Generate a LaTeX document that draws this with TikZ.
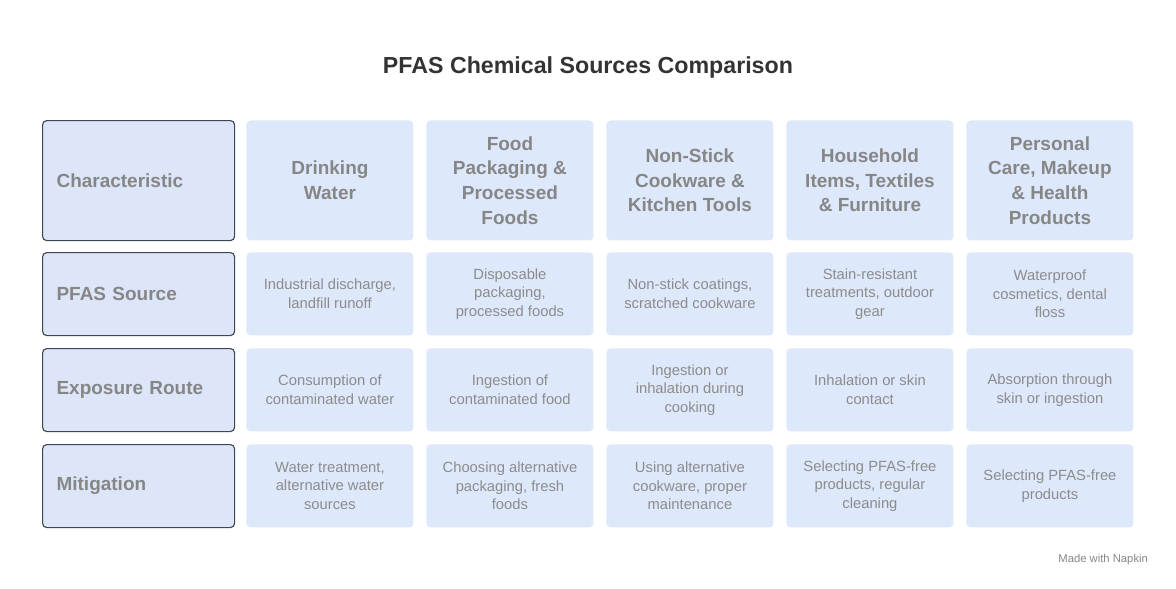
\documentclass[tikz,border=0pt]{standalone}
\usepackage{fontspec}
\setmainfont{Liberation Sans}
\usetikzlibrary{positioning}
\definecolor{cellblue}{HTML}{DDE8FB}
\definecolor{keyblue}{HTML}{DCE6F8}
\definecolor{keyline}{HTML}{3C4654}
\definecolor{celltext}{HTML}{8C8C8C}
\definecolor{headtext}{HTML}{868686}
\definecolor{titletext}{HTML}{333333}

\begin{document}
\begin{tikzpicture}[x=0.025cm,y=-0.025cm,
    cell/.style={fill=cellblue,rounded corners=3pt,anchor=north west,inner sep=0pt,
      minimum width=4.175cm,text=celltext,align=center,
      font=\fontsize{10.5}{13.2}\selectfont},
    head/.style={cell,text=headtext,font=\fontsize{13.5}{17.5}\selectfont\bfseries},
    keycell/.style={head,fill=keyblue,draw=keyline,line width=0.8pt,minimum width=4.8cm,
      inner xsep=0.35cm,text width=4.1cm,align=left},
    semithick]
    \useasboundingbox (0,0) rectangle (1176,588);

    \node[font=\fontsize{16.5}{20}\selectfont\bfseries,text=titletext] (title) at (588,67) {PFAS Chemical Sources Comparison};

    % row heights: 120, 83, 83, 83
    \node[keycell,minimum height=3cm]      (k1) at (42,120) {Characteristic};
    \node[keycell,minimum height=2.075cm]  (k2) at (42,252) {PFAS Source};
    \node[keycell,minimum height=2.075cm]  (k3) at (42,348) {Exposure Route};
    \node[keycell,minimum height=2.075cm]  (k4) at (42,444) {Mitigation};

    \foreach \i/\txt in {0/{Drinking\\Water},1/{Food\\Packaging \&\\Processed\\Foods},
        2/{Non-Stick\\Cookware \&\\Kitchen Tools},3/{Household\\Items, Textiles\\\& Furniture},
        4/{Personal\\Care, Makeup\\\& Health\\Products}}
      \node[head,minimum height=3cm] (h\i) at (246+180*\i,120) {\txt};

    \foreach \i/\txt in {0/{Industrial discharge,\\landfill runoff},1/{Disposable\\packaging,\\processed foods},
        2/{Non-stick coatings,\\scratched cookware},3/{Stain-resistant\\treatments, outdoor\\gear},
        4/{Waterproof\\cosmetics, dental\\floss}}
      \node[cell,minimum height=2.075cm] (s\i) at (246+180*\i,252) {\txt};

    \foreach \i/\txt in {0/{Consumption of\\contaminated water},1/{Ingestion of\\contaminated food},
        2/{Ingestion or\\inhalation during\\cooking},3/{Inhalation or skin\\contact},
        4/{Absorption through\\skin or ingestion}}
      \node[cell,minimum height=2.075cm] (e\i) at (246+180*\i,348) {\txt};

    \foreach \i/\txt in {0/{Water treatment,\\alternative water\\sources},1/{Choosing alternative\\packaging, fresh\\foods},
        2/{Using alternative\\cookware, proper\\maintenance},3/{Selecting PFAS-free\\products, regular\\cleaning},
        4/{Selecting PFAS-free\\products}}
      \node[cell,minimum height=2.075cm] (m\i) at (246+180*\i,444) {\txt};

    \node[anchor=east,text=headtext,font=\fontsize{8}{10}\selectfont] (credit) at (1153,560) {Made with Napkin};
\end{tikzpicture}
\end{document}
